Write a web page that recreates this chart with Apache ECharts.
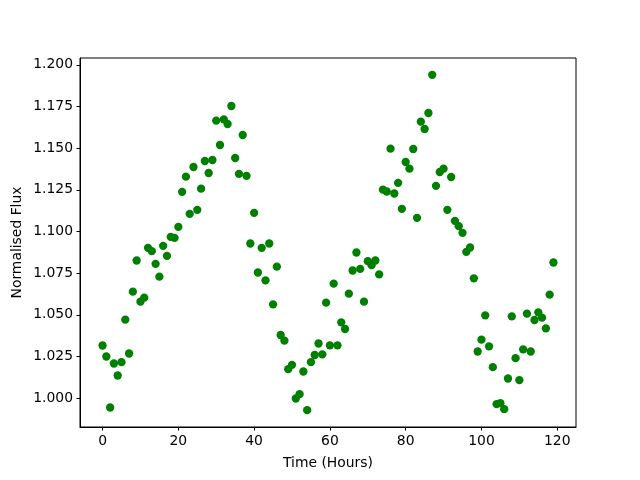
<!DOCTYPE html>
<html>
<head>
<meta charset="utf-8">
<script src="https://cdn.jsdelivr.net/npm/echarts@6/dist/echarts.min.js"></script>
<style>
  html, body { margin: 0; padding: 0; background: #fff; }
  #fluxChart { width: 640px; height: 480px; }
</style>
</head>
<body>
<div id="fluxChart"></div>
<script>
// time of each sample (hours)
var timeHours = [
  0, 1, 2, 3, 4, 5, 6, 7, 8, 9,
  10, 11, 12, 13, 14, 15, 16, 17, 18, 19,
  20, 21, 22, 23, 24, 25, 26, 27, 28, 29,
  30, 31, 32, 33, 34, 35, 36, 37, 38, 39,
  40, 41, 42, 43, 44, 45, 46, 47, 48, 49,
  50, 51, 52, 53, 54, 55, 56, 57, 58, 59,
  60, 61, 62, 63, 64, 65, 66, 67, 68, 69,
  70, 71, 72, 73, 74, 75, 76, 77, 78, 79,
  80, 81, 82, 83, 84, 85, 86, 87, 88, 89,
  90, 91, 92, 93, 94, 95, 96, 97, 98, 99,
  100, 101, 102, 103, 104, 105, 106, 107, 108, 109,
  110, 111, 112, 113, 114, 115, 116, 117, 118, 119
];
// normalised flux per sample
var flux = [
  1.0316, 1.0250, 0.9944, 1.0208, 1.0136, 1.0216, 1.0471, 1.0268, 1.0639, 1.0826,
  1.0579, 1.0603, 1.0902, 1.0882, 1.0806, 1.0729, 1.0914, 1.0854, 1.0968, 1.0962,
  1.1028, 1.1238, 1.1329, 1.1106, 1.1387, 1.1130, 1.1257, 1.1423, 1.1351, 1.1429,
  1.1665, 1.1519, 1.1673, 1.1645, 1.1753, 1.1441, 1.1346, 1.1579, 1.1334, 1.0928,
  1.1112, 1.0754, 1.0902, 1.0707, 1.0928, 1.0563, 1.0789, 1.0379, 1.0345, 1.0174,
  1.0200, 0.9998, 1.0024, 1.0160, 0.9928, 1.0216, 1.0259, 1.0328, 1.0263, 1.0573,
  1.0317, 1.0687, 1.0317, 1.0455, 1.0415, 1.0627, 1.0766, 1.0874, 1.0776, 1.0579,
  1.0822, 1.0798, 1.0826, 1.0743, 1.1251, 1.1240, 1.1497, 1.1228, 1.1292, 1.1136,
  1.1417, 1.1377, 1.1495, 1.1082, 1.1659, 1.1615, 1.1711, 1.1940, 1.1274, 1.1357,
  1.1377, 1.1130, 1.1327, 1.1064, 1.1032, 1.0992, 1.0878, 1.0904, 1.0719, 1.0280,
  1.0351, 1.0497, 1.0311, 1.0186, 0.9964, 0.9970, 0.9934, 1.0118, 1.0491, 1.0240,
  1.0108, 1.0293, 1.0507, 1.0280, 1.0469, 1.0515, 1.0483, 1.0419, 1.0621, 1.0814
];
var xTicks = [0, 20, 40, 60, 80, 100, 120];
var yTicks = [1.000, 1.025, 1.050, 1.075, 1.100, 1.125, 1.150, 1.175, 1.200];

var fontFamily = 'DejaVu Sans';
var pointColor = '#008000';

var points = timeHours.map(function (t, i) { return [t, flux[i]]; });

var myChart = echarts.init(document.getElementById('fluxChart'));
myChart.setOption({
  animation: false,
  backgroundColor: '#fff',
  grid: {
    left: 80, right: 64, top: 58, bottom: 53,
    show: true,
    borderColor: '#000',
    borderWidth: 1
  },
  xAxis: {
    type: 'value',
    min: -5.95, max: 124.95,
    name: 'Time (Hours)',
    nameLocation: 'middle',
    nameGap: 29,
    nameTextStyle: { color: '#000', fontSize: 13.9, fontFamily: fontFamily },
    splitLine: { show: false },
    axisLine: { show: true, onZero: false, lineStyle: { color: '#000', width: 1 } },
    axisTick: { show: true, length: 3.5, lineStyle: { color: '#000' }, customValues: xTicks },
    axisLabel: {
      color: '#000', fontSize: 13.9, fontFamily: fontFamily, margin: 7,
      customValues: xTicks
    }
  },
  yAxis: {
    type: 'value',
    min: 0.9827, max: 1.2041,
    name: 'Normalised Flux',
    nameLocation: 'middle',
    nameGap: 56,
    nameMoveOverlap: false,
    nameTextStyle: { color: '#000', fontSize: 13.9, fontFamily: fontFamily },
    splitLine: { show: false },
    axisLine: { show: true, onZero: false, lineStyle: { color: '#000', width: 1 } },
    axisTick: { show: true, length: 3.5, lineStyle: { color: '#000' }, customValues: yTicks },
    axisLabel: {
      color: '#000', fontSize: 13.9, fontFamily: fontFamily, margin: 7,
      customValues: yTicks,
      formatter: function (v) { return v.toFixed(3); }
    }
  },
  series: [{
    type: 'scatter',
    data: points,
    symbol: 'circle',
    symbolSize: 8.3,
    itemStyle: { color: pointColor, opacity: 1 }
  }]
});
</script>
</body>
</html>
